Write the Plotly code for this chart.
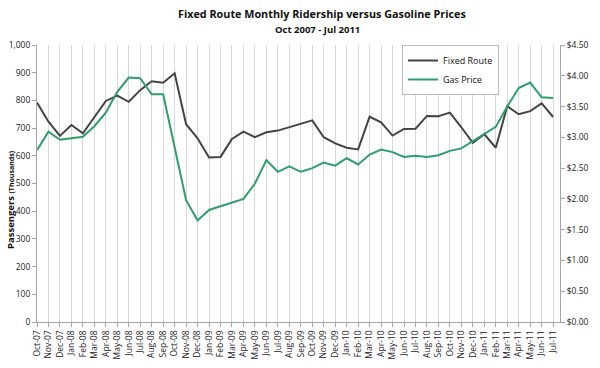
import plotly.graph_objects as go

months = ["Oct-07","Nov-07","Dec-07","Jan-08","Feb-08","Mar-08","Apr-08","May-08","Jun-08","Jul-08","Aug-08","Sep-08",
          "Oct-08","Nov-08","Dec-08","Jan-09","Feb-09","Mar-09","Apr-09","May-09","Jun-09","Jul-09","Aug-09","Sep-09",
          "Oct-09","Nov-09","Dec-09","Jan-10","Feb-10","Mar-10","Apr-10","May-10","Jun-10","Jul-10","Aug-10","Sep-10",
          "Oct-10","Nov-10","Dec-10","Jan-11","Feb-11","Mar-11","Apr-11","May-11","Jun-11","Jul-11"]

fixed_route = [792, 723, 672, 711, 681, 741, 798, 817, 795, 837, 869, 864,
               898, 714, 663, 594, 596, 661, 687, 667, 685, 691, 703, 717,
               728, 667, 645, 629, 623, 741, 721, 673, 697, 698, 744, 743,
               756, 703, 647, 678, 629, 779, 750, 761, 789, 740]

gas_price = [2.79, 3.09, 2.96, 2.99, 3.01, 3.18, 3.40, 3.74, 3.97, 3.96, 3.70, 3.70,
             2.84, 1.98, 1.65, 1.82, 1.88, 1.94, 2.00, 2.25, 2.63, 2.44, 2.53, 2.44,
             2.50, 2.59, 2.54, 2.66, 2.56, 2.72, 2.80, 2.76, 2.68, 2.70, 2.68, 2.71,
             2.78, 2.82, 2.94, 3.06, 3.17, 3.50, 3.80, 3.89, 3.65, 3.64]

left_ticks = list(range(0, 1001, 100))
right_ticks = [i * 0.5 for i in range(10)]

x = list(range(len(months)))
FONT = "Open Sans"

fig = go.Figure()
fig.add_trace(go.Scatter(x=x, y=fixed_route, name="Fixed Route", mode="lines",
                         line=dict(color="#444444", width=2)))
fig.add_trace(go.Scatter(x=x, y=gas_price, name="Gas Price", mode="lines", yaxis="y2",
                         line=dict(color="#2e9e6b", width=2)))

fig.update_layout(
    width=600, height=368,
    margin=dict(l=37, r=40, t=45, b=46),
    paper_bgcolor="white", plot_bgcolor="white",
    font=dict(family=FONT, size=9, color="#222222"),
    showlegend=True,
    legend=dict(x=(402 - 37) / 523, y=1.0, xanchor="left", yanchor="top",
                bgcolor="white", bordercolor="#bbbbbb", borderwidth=1,
                font=dict(family=FONT, size=9, color="#111111"),
                itemwidth=30, tracegroupgap=0),
    xaxis=dict(
        range=[0, 45.6], tickmode="array", tickvals=x, ticktext=months,
        tickangle=-90, tickfont=dict(size=8.5), automargin=False,
        showgrid=True, gridcolor="#d9d9d9", gridwidth=1.3,
        showline=True, linecolor="#a6a6a6", linewidth=1,
        ticks="outside", ticklen=4, tickcolor="#a6a6a6", zeroline=False,
    ),
    yaxis=dict(
        range=[0, 1000], tickmode="array", tickvals=left_ticks,
        ticktext=[f"{v:,}" for v in left_ticks], automargin=False,
        showgrid=False, zeroline=False,
        showline=True, linecolor="#a6a6a6", linewidth=1,
        ticks="outside", ticklen=4, tickcolor="#a6a6a6",
        tickfont=dict(size=8.5),
    ),
    yaxis2=dict(
        range=[0, 4.5], overlaying="y", side="right", tickmode="array",
        tickvals=right_ticks, ticktext=[f"${v:.2f}" for v in right_ticks],
        automargin=False, showgrid=False, zeroline=False,
        showline=True, linecolor="#a6a6a6", linewidth=1,
        ticks="outside", ticklen=4, tickcolor="#a6a6a6",
        tickfont=dict(size=8.5),
    ),
    annotations=[
        dict(text="<b>Fixed Route Monthly Ridership versus Gasoline Prices</b>",
             x=322, y=14, xref="paper", yref="paper", showarrow=False,
             font=dict(family=FONT, size=10.8, color="#111111")),
        dict(text="<b>Oct 2007 - Jul 2011</b>",
             x=317, y=29, xref="paper", yref="paper", showarrow=False,
             font=dict(family=FONT, size=9.5, color="#111111")),
        dict(text="<b>Passengers <span style='font-size:7px'>(Thousands)</span></b>",
             x=10, y=200, textangle=-90, showarrow=False,
             font=dict(family=FONT, size=9.5, color="#111111")),
    ],
)

# convert pixel annotation positions to paper coordinates
pw = 600 - 37 - 40
ph = 368 - 45 - 46
new_ann = []
for a in fig.layout.annotations:
    a = a.to_plotly_json()
    a["xref"] = "paper"; a["yref"] = "paper"
    a["x"] = (a["x"] - 37) / pw
    a["y"] = (368 - 46 - a["y"]) / ph
    a["xanchor"] = "center"; a["yanchor"] = "middle"
    new_ann.append(a)
fig.layout.annotations = new_ann

fig.write_html("out.html", config={"displayModeBar": False},
               post_script="document.body.style.margin='0';document.body.style.overflow='hidden';")
